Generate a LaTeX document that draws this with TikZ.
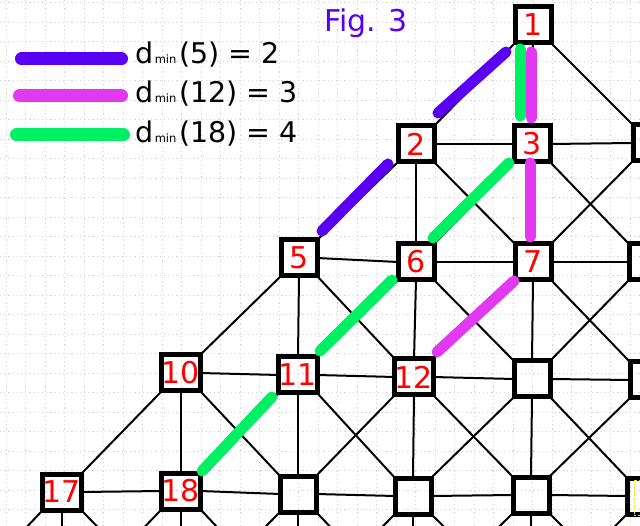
\documentclass[tikz,border=0pt]{standalone}
\usepackage{fontspec}
\setmainfont{DejaVu Sans}
\usetikzlibrary{calc}
\definecolor{pblue}{RGB}{90,0,242}
\definecolor{pmag}{RGB}{226,56,242}
\definecolor{pgreen}{RGB}{0,240,100}
\definecolor{gridc}{RGB}{212,212,212}
\definecolor{pred}{RGB}{255,0,0}
\begin{document}
\begin{tikzpicture}[x=1pt,y=-1pt,
  box/.style={draw=black, line width=5pt, minimum width=36pt, minimum height=36pt,
    inner sep=0pt, outer sep=0pt, text=pred, font=\fontsize{30}{30}\selectfont},
  ghost/.style={minimum width=36pt, minimum height=36pt, inner sep=0pt, outer sep=0pt},
  conn/.style={line width=2pt, black},
  hl/.style={line width=11pt, line cap=round},
  legline/.style={line width=13pt, line cap=round},
  legtext/.style={anchor=base west, inner sep=0pt, font=\fontsize{28.5}{28.5}\selectfont},
  gridline/.style={gridc, line width=0.7pt, dash pattern=on 1.2pt off 3pt}]
\useasboundingbox (0,0) rectangle (640,526);
\clip (0,0) rectangle (640,526);
\fill[white] (0,0) rectangle (640,526);
% graph paper
\foreach \k in {0,...,26} \draw[gridline] (0,{2.5+19.5*\k}) -- (640,{2.5+19.5*\k});
\foreach \k in {0,...,32} \draw[gridline] ({6+19.5*\k},0) -- ({6+19.5*\k},526);
% nodes
\node[box] (n1) at (533,25) {1};
\node[box] (n2) at (416,144) {2};
\node[box] (n3) at (532,144) {3};
\node[box] (n4) at (651,143) {};
\node[box] (n5) at (299,258) {5};
\node[box] (n6) at (416,262) {6};
\node[box] (n7) at (533,262) {7};
\node[box] (n8) at (647,262) {};
\node[box] (n10) at (181,373) {10};
\node[box] (n11) at (298,375) {11};
\node[box] (n12) at (414,377) {12};
\node[box] (n13) at (532,379) {};
\node[box] (n14) at (648,380) {};
\node[box] (n17) at (62,492) {17};
\node[box] (n18) at (181,491) {18};
\node[box] (n19) at (298,494) {};
\node[box] (n20) at (413,496) {};
\node[box] (n21) at (531,495) {};
\node[box] (n22) at (645,496) {};
\node[ghost] (o1) at (-55,612) {};
\node[ghost] (o2) at (62,612) {};
\node[ghost] (o3) at (181,612) {};
\node[ghost] (o4) at (298,612) {};
\node[ghost] (o5) at (413,612) {};
\node[ghost] (o6) at (531,612) {};
\node[ghost] (o7) at (648,612) {};
% connectors
\foreach \a/\b in {n2/n3,n3/n4,n5/n6,n6/n7,n7/n8,n10/n11,n11/n12,n12/n13,n13/n14,
  n17/n18,n18/n19,n19/n20,n20/n21,n21/n22}
  \draw[conn] (\a.east) -- (\b.west);
\foreach \a/\b in {n1/n3,n2/n6,n3/n7,n4/n8,n5/n11,n6/n12,n7/n13,n8/n14,
  n10/n18,n11/n19,n12/n20,n13/n21,n14/n22,n17/o2,n18/o3,n19/o4,n20/o5,n21/o6,n22/o7}
  \draw[conn] (\a.south) -- (\b.north);
\foreach \a/\b in {n1/n2,n3/n6,n4/n7,n2/n5,n6/n11,n7/n12,n8/n13,n5/n10,n11/n18,
  n12/n19,n13/n20,n14/n21,n10/n17,n17/o1,n18/o2,n19/o3,n20/o4,n21/o5,n22/o6}
  \draw[conn] (\a.south west) -- (\b.north east);
\foreach \a/\b in {n1/n4,n2/n7,n3/n8,n5/n12,n6/n13,n7/n14,n10/n19,n11/n20,n12/n21,
  n13/n22,n17/o3,n18/o4,n19/o5,n20/o6,n21/o7}
  \draw[conn] (\a.south east) -- (\b.north west);
% redraw box outlines on top of connectors
\foreach \n in {n1,n2,n3,n4,n5,n6,n7,n8,n10,n11,n12,n13,n14,n17,n18,n19,n20,n21,n22}
  \draw[line width=5pt] (\n.south west) rectangle (\n.north east);
% highlighted paths
\draw[hl, pblue] ($(n1.south west)+(-9,9)$) -- ($(n2.north east)+(4,-13)$);
\draw[hl, pblue] ($(n2.south west)+(-10,2)$) -- ($(n5.north east)+(5,-9)$);
\draw[hl, pgreen] ($(n1.south)+(-13,6)$) -- ($(n3.north)+(-12,-10)$);
\draw[hl, pmag] ($(n1.south)+(-2,9)$) -- ($(n3.north)+(-1,-8)$);
\draw[hl, pgreen] ($(n3.south west)+(-5,1)$) -- ($(n6.north east)+(-1,-6)$);
\draw[hl, pmag] ($(n3.south)+(-2,1)$) -- ($(n7.north)+(-3,-7)$);
\draw[hl, pgreen] ($(n6.south west)+(-6,0)$) -- ($(n11.north east)+(3,-6)$);
\draw[hl, pmag] ($(n7.south west)+(-1,1)$) -- ($(n12.north east)+(4,-7)$);
\draw[hl, pgreen] ($(n11.south west)+(-7,4)$) -- ($(n18.north east)+(2,-2)$);
% small dashed mark at right edge
\draw[yellow!85!orange, line width=0.8pt, dash pattern=on 2pt off 1.5pt] (634,480) rectangle (646,515);
% title and legend
\node[anchor=base west, inner sep=0pt, text=pblue, font=\fontsize{30}{30}\selectfont] (fig) at (324,32) {Fig. 3};
\draw[legline, pblue] (21.5,59) -- (121.5,59);
\draw[legline, pmag] (19.5,96) -- (121.5,96);
\draw[legline, pgreen] (16.5,135) -- (123.5,135);
\node[legtext] (l1) at (135.5,64) {d{\fontsize{11.5}{11.5}\selectfont\kern1pt min}\kern3pt(5) = 2};
\node[legtext] (l2) at (135.5,103) {d{\fontsize{11.5}{11.5}\selectfont\kern1pt min}\kern3pt(12) = 3};
\node[legtext] (l3) at (135.5,143) {d{\fontsize{11.5}{11.5}\selectfont\kern1pt min}\kern3pt(18) = 4};
\end{tikzpicture}
\end{document}
